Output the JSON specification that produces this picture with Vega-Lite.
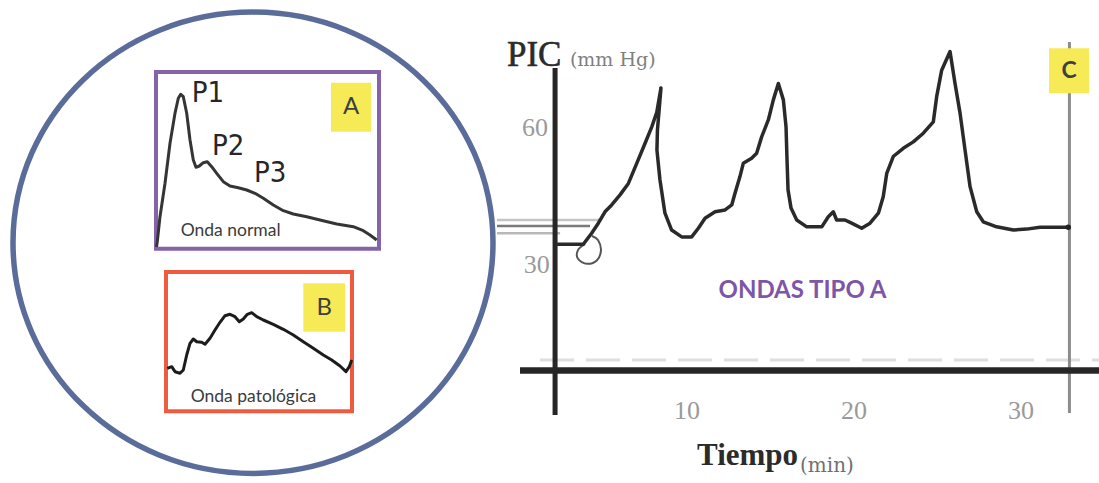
{
  "$schema": "https://vega.github.io/schema/vega-lite/v6.json",
  "width": 1099,
  "height": 483,
  "padding": 0,
  "autosize": {"type": "none"},
  "background": "white",
  "config": {"view": {"stroke": null}},
  "datasets": {
    "circle": [{"x": 253, "y": 242.75}],
    "frameA": [{"x": 156, "x2": 379, "y": 72, "y2": 248.7}],
    "frameB": [{"x": 166, "x2": 352, "y": 272, "y2": 411.3}],
    "tags": [
      {"tag": "A", "x": 331, "x2": 371, "y": 82.7, "y2": 131.7, "cx": 351, "cy": 107.2},
      {"tag": "B", "x": 303.3, "x2": 345, "y": 283.3, "y2": 331.7, "cx": 324.2, "cy": 307.5},
      {"tag": "C", "x": 1049, "x2": 1089, "y": 48.3, "y2": 93.3, "cx": 1069, "cy": 70.8}
    ],
    "peaks": [
      {"label": "P1", "x": 191.7, "y": 101.7},
      {"label": "P2", "x": 212, "y": 155},
      {"label": "P3", "x": 254, "y": 181.7}
    ],
    "boxText": [
      {"label": "Onda normal", "x": 180.7, "y": 235.7},
      {"label": "Onda patológica", "x": 190.7, "y": 401.7}
    ],
    "typeText": [{"label": "ONDAS TIPO A", "x": 802.5, "y": 298.3}],
    "waveA": [
      {"t": 0.22, "a": 0.96}, {"t": 0.58, "a": 3.96}, {"t": 1.79, "a": 18.11}, {"t": 4.04, "a": 37.01},
      {"t": 6.28, "a": 59.65}, {"t": 8.52, "a": 76.63}, {"t": 10.0, "a": 85.12}, {"t": 11.08, "a": 87.38},
      {"t": 12.24, "a": 86.02}, {"t": 13.77, "a": 76.63}, {"t": 15.25, "a": 61.52}, {"t": 16.73, "a": 50.2},
      {"t": 17.94, "a": 46.07}, {"t": 19.42, "a": 46.8}, {"t": 21.21, "a": 48.67}, {"t": 23.0, "a": 49.24},
      {"t": 24.98, "a": 46.41}, {"t": 27.22, "a": 42.67}, {"t": 30.18, "a": 37.92}, {"t": 33.18, "a": 35.48},
      {"t": 36.91, "a": 34.52}, {"t": 40.67, "a": 33.22}, {"t": 44.39, "a": 31.35}, {"t": 48.12, "a": 28.52},
      {"t": 52.6, "a": 24.73}, {"t": 57.09, "a": 21.51}, {"t": 61.57, "a": 19.64}, {"t": 67.58, "a": 18.11},
      {"t": 73.54, "a": 16.24}, {"t": 81.03, "a": 13.98}, {"t": 88.48, "a": 12.45}, {"t": 92.96, "a": 10.19},
      {"t": 95.96, "a": 7.75}, {"t": 98.97, "a": 4.92}
    ],
    "waveB": [
      {"t": 0.7, "a": 30.87}, {"t": 3.06, "a": 32.02}, {"t": 4.84, "a": 28.43}, {"t": 7.53, "a": 27.28},
      {"t": 9.3, "a": 29.65}, {"t": 11.13, "a": 40.42}, {"t": 12.9, "a": 48.82}, {"t": 14.68, "a": 51.9},
      {"t": 16.51, "a": 49.96}, {"t": 19.19, "a": 49.53}, {"t": 20.97, "a": 48.1}, {"t": 23.66, "a": 52.41},
      {"t": 26.34, "a": 58.36}, {"t": 29.03, "a": 63.89}, {"t": 31.72, "a": 68.63}, {"t": 34.41, "a": 69.63},
      {"t": 37.1, "a": 67.91}, {"t": 39.41, "a": 64.32}, {"t": 41.56, "a": 66.26}, {"t": 43.71, "a": 69.63},
      {"t": 46.08, "a": 70.78}, {"t": 48.76, "a": 67.91}, {"t": 52.31, "a": 65.54}, {"t": 57.69, "a": 62.46},
      {"t": 63.06, "a": 58.87}, {"t": 68.44, "a": 54.77}, {"t": 73.82, "a": 49.96}, {"t": 79.19, "a": 45.23},
      {"t": 84.57, "a": 40.42}, {"t": 89.09, "a": 36.83}, {"t": 93.55, "a": 32.52}, {"t": 96.77, "a": 28.43},
      {"t": 98.55, "a": 32.02}, {"t": 99.84, "a": 36.83}
    ],
    "waveC": [
      {"i": 1, "t": 2.2, "P": 33.9}, {"i": 2, "t": 3.79, "P": 33.9}, {"i": 3, "t": 4.29, "P": 36.3},
      {"i": 4, "t": 4.69, "P": 38.5}, {"i": 5, "t": 5.09, "P": 41.0}, {"i": 6, "t": 5.49, "P": 42.5},
      {"i": 7, "t": 5.99, "P": 44.7}, {"i": 8, "t": 6.49, "P": 47.2}, {"i": 9, "t": 6.99, "P": 51.6},
      {"i": 10, "t": 7.49, "P": 56.0}, {"i": 11, "t": 7.89, "P": 59.6}, {"i": 12, "t": 8.19, "P": 62.8},
      {"i": 13, "t": 8.44, "P": 68.1}, {"i": 14, "t": 8.23, "P": 58.9}, {"i": 15, "t": 8.2, "P": 54.5},
      {"i": 16, "t": 8.38, "P": 48.0}, {"i": 17, "t": 8.68, "P": 40.7}, {"i": 18, "t": 9.08, "P": 37.0},
      {"i": 19, "t": 9.68, "P": 35.5}, {"i": 20, "t": 10.28, "P": 35.5}, {"i": 21, "t": 10.68, "P": 37.4},
      {"i": 22, "t": 11.08, "P": 39.6}, {"i": 23, "t": 11.68, "P": 41.0}, {"i": 24, "t": 12.28, "P": 41.4},
      {"i": 25, "t": 12.68, "P": 42.5}, {"i": 26, "t": 12.87, "P": 45.0}, {"i": 27, "t": 13.17, "P": 48.7},
      {"i": 28, "t": 13.37, "P": 51.6}, {"i": 29, "t": 13.87, "P": 52.7}, {"i": 30, "t": 14.17, "P": 53.8},
      {"i": 31, "t": 14.47, "P": 57.4}, {"i": 32, "t": 14.87, "P": 61.1}, {"i": 33, "t": 15.17, "P": 65.5},
      {"i": 34, "t": 15.47, "P": 69.1}, {"i": 35, "t": 15.77, "P": 65.5}, {"i": 36, "t": 15.93, "P": 59.6},
      {"i": 37, "t": 15.99, "P": 52.3}, {"i": 38, "t": 16.05, "P": 45.8}, {"i": 39, "t": 16.23, "P": 41.8},
      {"i": 40, "t": 16.57, "P": 39.2}, {"i": 41, "t": 17.17, "P": 37.7}, {"i": 42, "t": 18.07, "P": 37.7},
      {"i": 43, "t": 18.46, "P": 39.9}, {"i": 44, "t": 18.76, "P": 41.0}, {"i": 45, "t": 18.96, "P": 39.2},
      {"i": 46, "t": 19.46, "P": 39.2}, {"i": 47, "t": 19.86, "P": 38.5}, {"i": 48, "t": 20.46, "P": 37.4},
      {"i": 49, "t": 20.96, "P": 38.5}, {"i": 50, "t": 21.46, "P": 40.7}, {"i": 51, "t": 21.75, "P": 44.3},
      {"i": 52, "t": 21.96, "P": 49.4}, {"i": 53, "t": 22.35, "P": 53.1}, {"i": 54, "t": 22.95, "P": 54.9},
      {"i": 55, "t": 23.55, "P": 56.3}, {"i": 56, "t": 24.15, "P": 58.2}, {"i": 57, "t": 24.75, "P": 60.7},
      {"i": 58, "t": 24.95, "P": 66.2}, {"i": 59, "t": 25.25, "P": 72.0}, {"i": 60, "t": 25.75, "P": 76.1},
      {"i": 61, "t": 26.05, "P": 69.1}, {"i": 62, "t": 26.35, "P": 62.6}, {"i": 63, "t": 26.65, "P": 54.5},
      {"i": 64, "t": 26.95, "P": 46.5}, {"i": 65, "t": 27.35, "P": 41.0}, {"i": 66, "t": 27.74, "P": 38.8},
      {"i": 67, "t": 28.54, "P": 37.7}, {"i": 68, "t": 29.54, "P": 37.0}, {"i": 69, "t": 30.34, "P": 37.2},
      {"i": 70, "t": 31.14, "P": 37.6}, {"i": 71, "t": 32.83, "P": 37.6}
    ],
    "loop": [
      {"i": 1, "t": 3.89, "P": 33.9}, {"i": 2, "t": 3.47, "P": 32.6}, {"i": 3, "t": 3.47, "P": 30.7},
      {"i": 4, "t": 4.01, "P": 29.6}, {"i": 5, "t": 4.61, "P": 30.4}, {"i": 6, "t": 4.85, "P": 32.6},
      {"i": 7, "t": 4.67, "P": 34.8}, {"i": 8, "t": 4.31, "P": 35.7}
    ],
    "endDot": [{"t": 32.83, "P": 37.6}],
    "sideLines": [
      {"line": "upper", "t": -1.38, "t2": 4.79, "P": 39.2},
      {"line": "middle", "t": -1.38, "t2": 4.19, "P": 37.9},
      {"line": "lower", "t": -1.38, "t2": 2.4, "P": 36.3}
    ],
    "faintLine": [{"t": 1.2, "t2": 34.67, "P": 8.54}],
    "rightLine": [{"t": 32.9, "P": -3.07, "P2": 78.2}],
    "yAxisLine": [{"t": 2.1, "P": -3.5, "P2": 72.5}],
    "xAxisLine": [{"t": 0, "t2": 34.67, "P": 6.24}],
    "ticks": [
      {"label": "60", "t": 0.9, "P": 60},
      {"label": "30", "t": 1.0, "P": 30},
      {"label": "10", "t": 10, "P": -2},
      {"label": "20", "t": 20, "P": -2},
      {"label": "30", "t": 30, "P": -2}
    ],
    "yTitle": [{"label": "PIC", "t": -0.78, "P": 72.9}],
    "yUnit": [{"label": "(mm Hg)", "t": 2.99, "P": 72.9}],
    "xTitle": [{"label": "Tiempo", "t": 10.6, "P": -14.45}],
    "xUnit": [{"label": "(min)", "t": 16.77, "P": -16.0}]
  },
  "resolve": {"scale": {"x": "independent", "y": "independent", "color": "independent"}},
  "layer": [
    {
      "data": {"name": "circle"},
      "mark": {"type": "point", "shape": "M-1,0A1,0.961,0,1,0,1,0A1,0.961,0,1,0,-1,0Z", "size": 230400, "filled": false, "stroke": "#5a6c9a", "strokeWidth": 5.5, "opacity": 1},
      "encoding": {
        "x": {"field": "x", "type": "quantitative", "axis": null, "scale": {"domain": [0, 1099], "range": [0, 1099], "zero": false, "nice": false}},
        "y": {"field": "y", "type": "quantitative", "axis": null, "scale": {"domain": [0, 483], "range": [0, 483], "zero": false, "nice": false}}
      }
    },
    {
      "data": {"name": "sideLines"},
      "mark": {"type": "rule", "strokeWidth": 2.5},
      "encoding": {
        "x": {"field": "t", "type": "quantitative", "axis": null, "scale": {"domain": [0, 30], "range": [520, 1021], "zero": false, "nice": false}},
        "x2": {"field": "t2"},
        "y": {"field": "P", "type": "quantitative", "axis": null, "scale": {"domain": [0, 60], "range": [399, 125], "zero": false, "nice": false}},
        "color": {"field": "line", "type": "nominal", "legend": null, "scale": {"domain": ["upper", "middle", "lower"], "range": ["#c4c4c4", "#7a7a7a", "#b8b8b8"]}}
      }
    },
    {
      "data": {"name": "faintLine"},
      "mark": {"type": "rule", "strokeWidth": 3, "color": "#dedede", "strokeDash": [34, 12]},
      "encoding": {
        "x": {"field": "t", "type": "quantitative", "axis": null, "scale": {"domain": [0, 30], "range": [520, 1021], "zero": false, "nice": false}},
        "x2": {"field": "t2"},
        "y": {"field": "P", "type": "quantitative", "axis": null, "scale": {"domain": [0, 60], "range": [399, 125], "zero": false, "nice": false}}
      }
    },
    {
      "data": {"name": "rightLine"},
      "mark": {"type": "rule", "strokeWidth": 3, "color": "#8c8c8c"},
      "encoding": {
        "x": {"field": "t", "type": "quantitative", "axis": null, "scale": {"domain": [0, 30], "range": [520, 1021], "zero": false, "nice": false}},
        "y": {"field": "P", "type": "quantitative", "axis": null, "scale": {"domain": [0, 60], "range": [399, 125], "zero": false, "nice": false}},
        "y2": {"field": "P2"}
      }
    },
    {
      "data": {"name": "yAxisLine"},
      "mark": {"type": "rule", "strokeWidth": 5, "color": "#262626"},
      "encoding": {
        "x": {"field": "t", "type": "quantitative", "axis": null, "scale": {"domain": [0, 30], "range": [520, 1021], "zero": false, "nice": false}},
        "y": {"field": "P", "type": "quantitative", "axis": null, "scale": {"domain": [0, 60], "range": [399, 125], "zero": false, "nice": false}},
        "y2": {"field": "P2"}
      }
    },
    {
      "data": {"name": "xAxisLine"},
      "mark": {"type": "rule", "strokeWidth": 6.5, "color": "#262626"},
      "encoding": {
        "x": {"field": "t", "type": "quantitative", "axis": null, "scale": {"domain": [0, 30], "range": [520, 1021], "zero": false, "nice": false}},
        "x2": {"field": "t2"},
        "y": {"field": "P", "type": "quantitative", "axis": null, "scale": {"domain": [0, 60], "range": [399, 125], "zero": false, "nice": false}}
      }
    },
    {
      "data": {"name": "loop"},
      "mark": {"type": "line", "stroke": "#555555", "strokeWidth": 2, "strokeJoin": "round", "interpolate": "cardinal"},
      "encoding": {
        "x": {"field": "t", "type": "quantitative", "axis": null, "scale": {"domain": [0, 30], "range": [520, 1021], "zero": false, "nice": false}},
        "y": {"field": "P", "type": "quantitative", "axis": null, "scale": {"domain": [0, 60], "range": [399, 125], "zero": false, "nice": false}},
        "order": {"field": "i", "type": "quantitative"}
      }
    },
    {
      "data": {"name": "waveC"},
      "mark": {"type": "line", "stroke": "#2a2a2a", "strokeWidth": 3.5, "strokeJoin": "round", "strokeCap": "round"},
      "encoding": {
        "x": {"field": "t", "type": "quantitative", "axis": null, "scale": {"domain": [0, 30], "range": [520, 1021], "zero": false, "nice": false}},
        "y": {"field": "P", "type": "quantitative", "axis": null, "scale": {"domain": [0, 60], "range": [399, 125], "zero": false, "nice": false}},
        "order": {"field": "i", "type": "quantitative"}
      }
    },
    {
      "data": {"name": "endDot"},
      "mark": {"type": "point", "filled": true, "size": 30, "color": "#222222", "opacity": 1},
      "encoding": {
        "x": {"field": "t", "type": "quantitative", "axis": null, "scale": {"domain": [0, 30], "range": [520, 1021], "zero": false, "nice": false}},
        "y": {"field": "P", "type": "quantitative", "axis": null, "scale": {"domain": [0, 60], "range": [399, 125], "zero": false, "nice": false}}
      }
    },
    {
      "data": {"name": "ticks"},
      "mark": {"type": "text", "font": "Liberation Serif", "fontSize": 26, "color": "#9a9a9a", "align": "center", "baseline": "middle", "dy": 3},
      "encoding": {
        "x": {"field": "t", "type": "quantitative", "axis": null, "scale": {"domain": [0, 30], "range": [520, 1021], "zero": false, "nice": false}},
        "y": {"field": "P", "type": "quantitative", "axis": null, "scale": {"domain": [0, 60], "range": [399, 125], "zero": false, "nice": false}},
        "text": {"field": "label"}
      }
    },
    {
      "data": {"name": "yTitle"},
      "mark": {"type": "text", "font": "Liberation Serif", "fontSize": 35, "color": "#2b2b2b", "stroke": "#2b2b2b", "strokeWidth": 0.6, "align": "left", "baseline": "alphabetic"},
      "encoding": {
        "x": {"field": "t", "type": "quantitative", "axis": null, "scale": {"domain": [0, 30], "range": [520, 1021], "zero": false, "nice": false}},
        "y": {"field": "P", "type": "quantitative", "axis": null, "scale": {"domain": [0, 60], "range": [399, 125], "zero": false, "nice": false}},
        "text": {"field": "label"}
      }
    },
    {
      "data": {"name": "yUnit"},
      "mark": {"type": "text", "font": "DejaVu Serif", "fontSize": 19, "color": "#808080", "align": "left", "baseline": "alphabetic"},
      "encoding": {
        "x": {"field": "t", "type": "quantitative", "axis": null, "scale": {"domain": [0, 30], "range": [520, 1021], "zero": false, "nice": false}},
        "y": {"field": "P", "type": "quantitative", "axis": null, "scale": {"domain": [0, 60], "range": [399, 125], "zero": false, "nice": false}},
        "text": {"field": "label"}
      }
    },
    {
      "data": {"name": "xTitle"},
      "mark": {"type": "text", "font": "Liberation Serif", "fontSize": 31, "fontWeight": "bold", "color": "#2b2b2b", "align": "left", "baseline": "alphabetic"},
      "encoding": {
        "x": {"field": "t", "type": "quantitative", "axis": null, "scale": {"domain": [0, 30], "range": [520, 1021], "zero": false, "nice": false}},
        "y": {"field": "P", "type": "quantitative", "axis": null, "scale": {"domain": [0, 60], "range": [399, 125], "zero": false, "nice": false}},
        "text": {"field": "label"}
      }
    },
    {
      "data": {"name": "xUnit"},
      "mark": {"type": "text", "font": "DejaVu Serif", "fontSize": 20, "color": "#707070", "align": "left", "baseline": "alphabetic"},
      "encoding": {
        "x": {"field": "t", "type": "quantitative", "axis": null, "scale": {"domain": [0, 30], "range": [520, 1021], "zero": false, "nice": false}},
        "y": {"field": "P", "type": "quantitative", "axis": null, "scale": {"domain": [0, 60], "range": [399, 125], "zero": false, "nice": false}},
        "text": {"field": "label"}
      }
    },
    {
      "data": {"name": "frameA"},
      "mark": {"type": "rect", "filled": false, "stroke": "#8563a8", "strokeWidth": 4},
      "encoding": {
        "x": {"field": "x", "type": "quantitative", "axis": null, "scale": {"domain": [0, 1099], "range": [0, 1099], "zero": false, "nice": false}},
        "x2": {"field": "x2"},
        "y": {"field": "y", "type": "quantitative", "axis": null, "scale": {"domain": [0, 483], "range": [0, 483], "zero": false, "nice": false}},
        "y2": {"field": "y2"}
      }
    },
    {
      "data": {"name": "frameB"},
      "mark": {"type": "rect", "filled": false, "stroke": "#ef5b3f", "strokeWidth": 4},
      "encoding": {
        "x": {"field": "x", "type": "quantitative", "axis": null, "scale": {"domain": [0, 1099], "range": [0, 1099], "zero": false, "nice": false}},
        "x2": {"field": "x2"},
        "y": {"field": "y", "type": "quantitative", "axis": null, "scale": {"domain": [0, 483], "range": [0, 483], "zero": false, "nice": false}},
        "y2": {"field": "y2"}
      }
    },
    {
      "data": {"name": "waveA"},
      "mark": {"type": "line", "stroke": "#353535", "strokeWidth": 3, "strokeJoin": "round"},
      "encoding": {
        "x": {"field": "t", "type": "quantitative", "axis": null, "scale": {"domain": [0, 100], "range": [156, 379], "zero": false, "nice": false}},
        "y": {"field": "a", "type": "quantitative", "axis": null, "scale": {"domain": [0, 100], "range": [248.7, 72], "zero": false, "nice": false}}
      }
    },
    {
      "data": {"name": "waveB"},
      "mark": {"type": "line", "stroke": "#1c1c1c", "strokeWidth": 3, "strokeJoin": "round"},
      "encoding": {
        "x": {"field": "t", "type": "quantitative", "axis": null, "scale": {"domain": [0, 100], "range": [166, 352], "zero": false, "nice": false}},
        "y": {"field": "a", "type": "quantitative", "axis": null, "scale": {"domain": [0, 100], "range": [411.3, 272], "zero": false, "nice": false}}
      }
    },
    {
      "data": {"name": "tags"},
      "mark": {"type": "rect", "color": "#f6eb57"},
      "encoding": {
        "x": {"field": "x", "type": "quantitative", "axis": null, "scale": {"domain": [0, 1099], "range": [0, 1099], "zero": false, "nice": false}},
        "x2": {"field": "x2"},
        "y": {"field": "y", "type": "quantitative", "axis": null, "scale": {"domain": [0, 483], "range": [0, 483], "zero": false, "nice": false}},
        "y2": {"field": "y2"}
      }
    },
    {
      "data": {"name": "tags"},
      "transform": [{"filter": "datum.tag !== 'C'"}],
      "mark": {"type": "text", "font": "Lato", "fontSize": 24, "color": "#3f3f3f", "align": "center", "baseline": "middle"},
      "encoding": {
        "x": {"field": "cx", "type": "quantitative", "axis": null, "scale": {"domain": [0, 1099], "range": [0, 1099], "zero": false, "nice": false}},
        "y": {"field": "cy", "type": "quantitative", "axis": null, "scale": {"domain": [0, 483], "range": [0, 483], "zero": false, "nice": false}},
        "text": {"field": "tag"}
      }
    },
    {
      "data": {"name": "tags"},
      "transform": [{"filter": "datum.tag === 'C'"}],
      "mark": {"type": "text", "font": "Lato", "fontSize": 23, "fontWeight": "bold", "color": "#404040", "align": "center", "baseline": "middle"},
      "encoding": {
        "x": {"field": "cx", "type": "quantitative", "axis": null, "scale": {"domain": [0, 1099], "range": [0, 1099], "zero": false, "nice": false}},
        "y": {"field": "cy", "type": "quantitative", "axis": null, "scale": {"domain": [0, 483], "range": [0, 483], "zero": false, "nice": false}},
        "text": {"field": "tag"}
      }
    },
    {
      "data": {"name": "peaks"},
      "mark": {"type": "text", "font": "Liberation Sans Narrow, DejaVu Sans Condensed, Liberation Sans", "fontSize": 29, "color": "#262626", "align": "left", "baseline": "alphabetic"},
      "encoding": {
        "x": {"field": "x", "type": "quantitative", "axis": null, "scale": {"domain": [0, 1099], "range": [0, 1099], "zero": false, "nice": false}},
        "y": {"field": "y", "type": "quantitative", "axis": null, "scale": {"domain": [0, 483], "range": [0, 483], "zero": false, "nice": false}},
        "text": {"field": "label"}
      }
    },
    {
      "data": {"name": "boxText"},
      "mark": {"type": "text", "font": "Lato", "fontSize": 17.5, "color": "#3b3b3b", "align": "left", "baseline": "alphabetic"},
      "encoding": {
        "x": {"field": "x", "type": "quantitative", "axis": null, "scale": {"domain": [0, 1099], "range": [0, 1099], "zero": false, "nice": false}},
        "y": {"field": "y", "type": "quantitative", "axis": null, "scale": {"domain": [0, 483], "range": [0, 483], "zero": false, "nice": false}},
        "text": {"field": "label"}
      }
    },
    {
      "data": {"name": "typeText"},
      "mark": {"type": "text", "font": "Lato", "fontSize": 24, "fontWeight": "bold", "color": "#7d56a7", "align": "center", "baseline": "alphabetic"},
      "encoding": {
        "x": {"field": "x", "type": "quantitative", "axis": null, "scale": {"domain": [0, 1099], "range": [0, 1099], "zero": false, "nice": false}},
        "y": {"field": "y", "type": "quantitative", "axis": null, "scale": {"domain": [0, 483], "range": [0, 483], "zero": false, "nice": false}},
        "text": {"field": "label"}
      }
    }
  ]
}
